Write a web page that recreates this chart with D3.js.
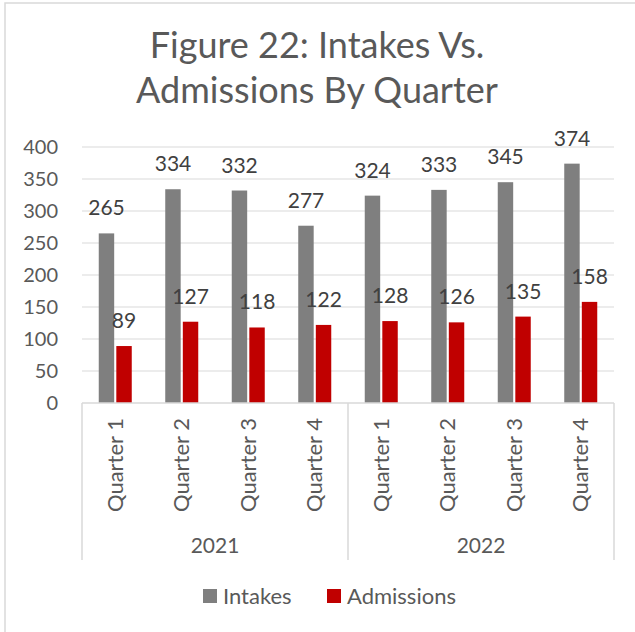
<!DOCTYPE html>
<html>
<head>
<meta charset="utf-8">
<script src="https://cdn.jsdelivr.net/npm/d3@7"></script>
<style>
  body { margin: 0; background: #fff; }
  text { font-family: Lato, "Open Sans", sans-serif; }
</style>
</head>
<body>
<script>
const width = 635;
const height = 632;

// data
const years = ["2021", "2022"];
const quarters = ["Quarter 1", "Quarter 2", "Quarter 3", "Quarter 4"];
const intakes = [265, 334, 332, 277, 324, 333, 345, 374];
const admissions = [89, 127, 118, 122, 128, 126, 135, 158];
const yTicks = [0, 50, 100, 150, 200, 250, 300, 350, 400];

const seriesNames = ["Intakes", "Admissions"];
const colors = ["#7f7f7f", "#c00000"];

const cats = [];
years.forEach(y => quarters.forEach(q => cats.push({ key: y + "|" + q, year: y, q: q })));
const rows = cats.map((c, i) => ({ ...c, values: [intakes[i], admissions[i]] }));

const plot = { left: 82, right: 614, top: 147, bottom: 403 };

const svg = d3.select("body").append("svg")
    .attr("width", width)
    .attr("height", height);

// outer chart border (right/bottom edges are off the image)
svg.append("rect")
    .attr("x", 5).attr("y", 3)
    .attr("width", width + 10).attr("height", height + 10)
    .attr("fill", "none")
    .attr("stroke", "#d9d9d9")
    .attr("stroke-width", 1.5);

// title
const title = svg.append("text")
    .attr("text-anchor", "middle")
    .attr("fill", "#595959")
    .style("font-size", "36px");
title.append("tspan").attr("x", 317).attr("y", 58).text("Figure 22: Intakes Vs.");
title.append("tspan").attr("x", 317).attr("y", 103).text("Admissions By Quarter");

const y = d3.scaleLinear().domain([0, 400]).range([plot.bottom, plot.top]);
const x0 = d3.scaleBand().domain(cats.map(c => c.key)).range([plot.left, plot.right]);
const barW = 14.5, gap = 4;
const x1 = d3.scaleBand().domain(seriesNames)
    .range([-(barW + gap / 2), barW + gap / 2]).paddingInner(gap / (2 * barW + gap));

// gridlines
svg.append("g")
    .selectAll("line")
    .data(yTicks.filter(d => d > 0))
    .join("line")
    .attr("x1", plot.left).attr("x2", plot.right)
    .attr("y1", d => y(d)).attr("y2", d => y(d))
    .attr("stroke", "#d9d9d9").attr("stroke-width", 1);

// y axis labels
svg.append("g")
    .selectAll("text")
    .data(yTicks)
    .join("text")
    .attr("x", 58)
    .attr("y", d => y(d))
    .attr("dy", "0.35em")
    .attr("text-anchor", "end")
    .attr("fill", "#595959")
    .style("font-size", "20px")
    .text(d => d);

// bars
const groups = svg.append("g")
    .selectAll("g")
    .data(rows)
    .join("g")
    .attr("transform", d => `translate(${x0(d.key) + x0.bandwidth() / 2},0)`);

groups.selectAll("rect")
    .data(d => d.values.map((v, i) => ({ s: seriesNames[i], v, i })))
    .join("rect")
    .attr("x", d => x1(d.s))
    .attr("width", x1.bandwidth())
    .attr("y", d => y(d.v))
    .attr("height", d => y(0) - y(d.v))
    .attr("fill", d => colors[d.i]);

groups.selectAll("text")
    .data(d => d.values.map((v, i) => ({ s: seriesNames[i], v, i })))
    .join("text")
    .attr("x", d => x1(d.s) + x1.bandwidth() / 2)
    .attr("y", d => y(d.v) - 18)
    .attr("text-anchor", "middle")
    .attr("fill", "#404040")
    .style("font-size", "21px")
    .text(d => d.v);

// category axis line
svg.append("line")
    .attr("x1", plot.left).attr("x2", plot.right)
    .attr("y1", plot.bottom).attr("y2", plot.bottom)
    .attr("stroke", "#d9d9d9").attr("stroke-width", 1.5);

// year separators
const yearEdges = [0, quarters.length, cats.length].map(i =>
    i < cats.length ? x0(cats[i].key) : plot.right);
svg.append("g")
    .selectAll("line")
    .data(yearEdges)
    .join("line")
    .attr("x1", d => d).attr("x2", d => d)
    .attr("y1", plot.bottom).attr("y2", 560)
    .attr("stroke", "#d9d9d9").attr("stroke-width", 1.5);

// quarter labels (rotated)
svg.append("g")
    .selectAll("text")
    .data(cats)
    .join("text")
    .attr("transform", d => `translate(${x0(d.key) + x0.bandwidth() / 2},418) rotate(-90)`)
    .attr("text-anchor", "end")
    .attr("dy", "0.35em")
    .attr("fill", "#595959")
    .style("font-size", "22px")
    .text(d => d.q);

// year labels
svg.append("g")
    .selectAll("text")
    .data(years)
    .join("text")
    .attr("x", (d, i) => (yearEdges[i] + yearEdges[i + 1]) / 2)
    .attr("y", 553)
    .attr("text-anchor", "middle")
    .attr("fill", "#595959")
    .style("font-size", "21px")
    .text(d => d);

// legend
const legendX = [203, 327];
const legend = svg.append("g")
    .selectAll("g")
    .data(seriesNames)
    .join("g")
    .attr("transform", (d, i) => `translate(${legendX[i]},589)`);
legend.append("rect")
    .attr("width", 14).attr("height", 14)
    .attr("fill", (d, i) => colors[i]);
legend.append("text")
    .attr("x", 20).attr("y", 15)
    .attr("fill", "#595959")
    .style("font-size", "22px")
    .text(d => d);
</script>
</body>
</html>
